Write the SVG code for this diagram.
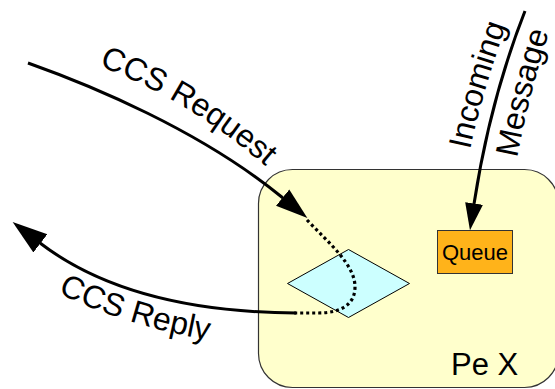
<svg xmlns="http://www.w3.org/2000/svg" xmlns:xlink="http://www.w3.org/1999/xlink" width="555" height="389" viewBox="0 0 555 389">
  <style>
    .lbl { font-family: "Liberation Sans", Arial, sans-serif; font-size: 32px; fill: #000; }
    .conn { fill: none; stroke: #000; stroke-width: 3; }
    .dot { fill: none; stroke: #000; stroke-width: 3.2; stroke-dasharray: 3 3; }
  </style>
  <defs>
    <marker id="hReply" markerUnits="userSpaceOnUse" markerWidth="36" markerHeight="26" viewBox="0 -13 36 26" refX="0.5" refY="0" orient="auto">
      <path d="M0,-11.5 L35,0 L0,11.5 z" fill="#000"/>
    </marker>
    <marker id="hReq" markerUnits="userSpaceOnUse" markerWidth="33" markerHeight="22" viewBox="0 -11 33 22" refX="0.5" refY="0" orient="auto">
      <path d="M0,-10.5 L32,0 L0,10.5 z" fill="#000"/>
    </marker>
    <marker id="hIn" markerUnits="userSpaceOnUse" markerWidth="28" markerHeight="20" viewBox="0 -10 28 20" refX="0.5" refY="0" orient="auto">
      <path d="M0,-9 L27,0 L0,9 z" fill="#000"/>
    </marker>
    <path id="tpReq" d="M99,66 Q 190,100 270,170"/>
    <path id="tpReply" d="M58,293 Q 130,328 225,343"/>
    <path id="tpInc" d="M470,150 Q 483,90 508,20"/>
    <path id="tpMsg" d="M517,158 Q 529,96 548,36"/>
  </defs>

  <g id="peX">
    <rect x="258.5" y="169.5" width="300" height="218" rx="34" ry="34" fill="#ffffcc" stroke="#333333" stroke-width="1.2"/>
    <text class="lbl" x="451" y="375" style="font-size:31px">Pe X</text>
  </g>

  <g id="diamond">
    <polygon points="287.5,283.5 348.5,249.5 409.5,283.5 348.5,317.5" fill="#ccffff" stroke="#000" stroke-width="1"/>
  </g>

  <g id="queue">
    <rect x="437.5" y="230.5" width="75" height="43" fill="#ffb31a" stroke="#333333" stroke-width="1"/>
    <text x="475" y="260" text-anchor="middle" style="font-family: 'Liberation Sans', Arial, sans-serif; font-size: 22px; fill: #000;">Queue</text>
  </g>

  <g id="connectors">
    <path class="conn" d="M28,63 C 90,85 200,130 283,198" marker-end="url(#hReq)"/>
    <path class="dot" d="M307,220 C 330,244 355,265 355,287 C 355,305 340,313 318,313 L294,313"/>
    <path class="conn" d="M296,313 Q 130,312 40,243" marker-end="url(#hReply)"/>
    <path class="conn" d="M525,11 Q 490,100 474,204" marker-end="url(#hIn)"/>
  </g>

  <g id="labels">
    <text class="lbl"><textPath xlink:href="#tpReq" href="#tpReq">CCS Request</textPath></text>
    <text class="lbl"><textPath xlink:href="#tpReply" href="#tpReply">CCS Reply</textPath></text>
    <text class="lbl"><textPath xlink:href="#tpInc" href="#tpInc">Incoming</textPath></text>
    <text class="lbl"><textPath xlink:href="#tpMsg" href="#tpMsg">Message</textPath></text>
  </g>
</svg>
